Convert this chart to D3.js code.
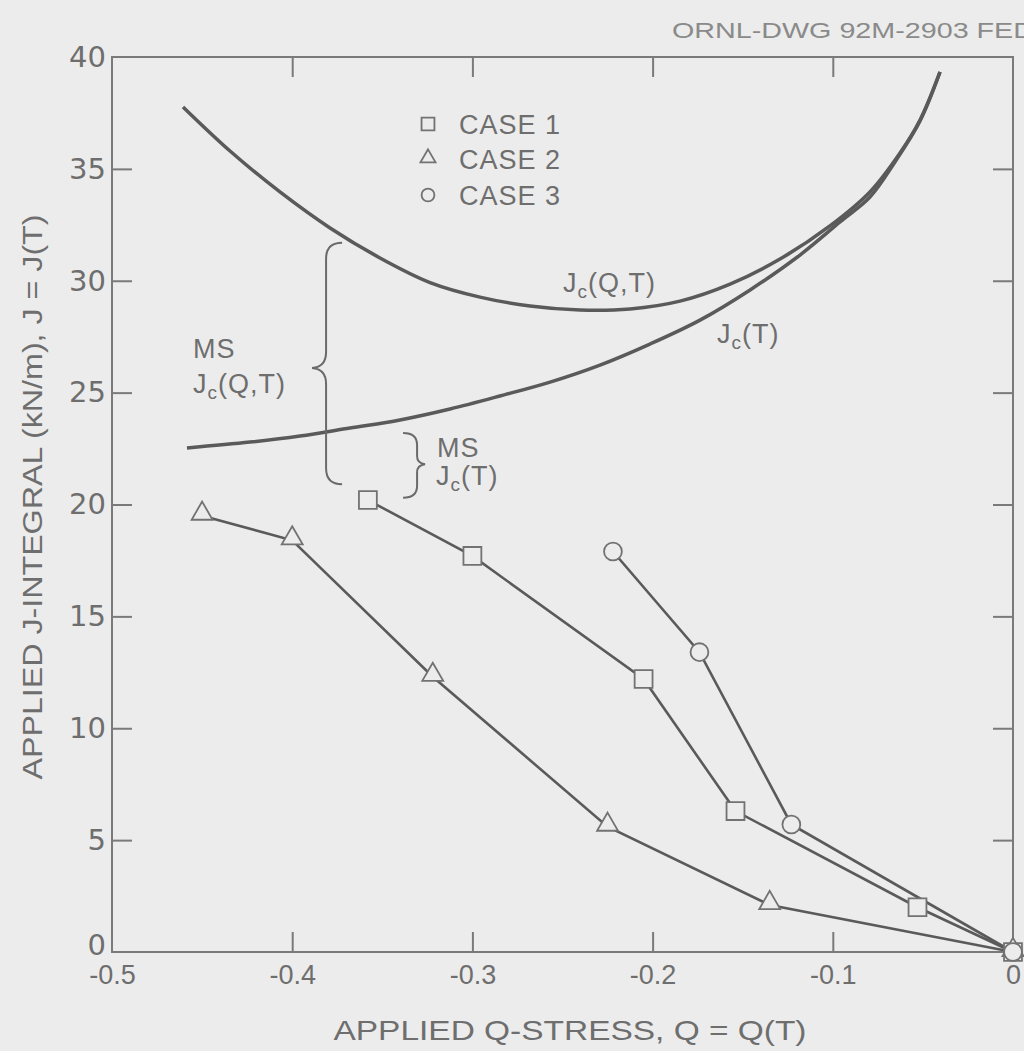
<!DOCTYPE html>
<html><head><meta charset="utf-8">
<script src="https://cdn.jsdelivr.net/npm/d3@7"></script>
<style>body{margin:0;background:#ececec;} svg{display:block;}</style>
</head><body><svg id="c" width="1024" height="1051"></svg>
<script>
// ---------- data ----------
const case1Q = [-0.358, -0.300, -0.205, -0.154, -0.053, 0];
const case1J = [20.2, 17.7, 12.2, 6.3, 2.0, 0];
const case2Q = [-0.450, -0.400, -0.322, -0.225, -0.135, 0];
const case2J = [19.5, 18.4, 12.3, 5.6, 2.1, 0];
const case3Q = [-0.222, -0.174, -0.123, 0];
const case3J = [17.9, 13.4, 5.7, 0];
const jcQT_Q = [-0.4606, -0.4345, -0.4068, -0.3790, -0.3513, -0.3235, -0.2958, -0.2680, -0.2403, -0.2125, -0.1848, -0.1570, -0.1293, -0.1016, -0.0794, -0.0627, -0.0516, -0.0405];
const jcQT_J = [37.77, 35.80, 33.97, 32.36, 31.02, 29.92, 29.27, 28.87, 28.69, 28.74, 29.09, 29.85, 30.97, 32.45, 33.97, 35.71, 37.18, 39.33];
const jcT_Q = [-0.4584, -0.4234, -0.3957, -0.3679, -0.3402, -0.3124, -0.2847, -0.2569, -0.2292, -0.2015, -0.1737, -0.1459, -0.1182, -0.0960, -0.0794, -0.0655, -0.0516, -0.0405];
const jcT_J = [22.53, 22.79, 23.06, 23.42, 23.78, 24.27, 24.85, 25.47, 26.23, 27.17, 28.24, 29.59, 31.15, 32.63, 33.74, 35.31, 37.14, 39.33];
const xTicks = [-0.5, -0.4, -0.3, -0.2, -0.1, 0];
const xTickLabels = ["-0.5", "-0.4", "-0.3", "-0.2", "-0.1", "0"];
const yTicks = [0, 5, 10, 15, 20, 25, 30, 35, 40];
const legendLabels = ["CASE 1", "CASE 2", "CASE 3"];
const legendShapes = ["square", "triangle", "circle"];

// ---------- layout ----------
const W = 1024, H = 1051;
const BG = "#ececec", INK = "#5a5a5a", TXT = "#6e6e6e", MK = "#727272";
const FONT = "'Liberation Sans', Arial, sans-serif";
const x = d3.scaleLinear().domain([-0.5, 0]).range([112, 1013]);
const y = d3.scaleLinear().domain([0, 40]).range([952, 57]);

const svg = d3.select("#c");
svg.append("rect").attr("width", W).attr("height", H).attr("fill", BG);

// frame
svg.append("rect").attr("x", x(-0.5)).attr("y", y(40))
  .attr("width", x(0) - x(-0.5)).attr("height", y(0) - y(40))
  .attr("fill", "none").attr("stroke", "#7a7a7a").attr("stroke-width", 2);

// inner tick marks on all four sides
const innerX = xTicks.slice(1, -1), innerY = yTicks.slice(1, -1);
const axB = svg.append("g").attr("transform", `translate(0,${y(0)})`)
  .call(d3.axisBottom(x).tickValues(innerX).tickSize(-20).tickFormat(""));
const axT = svg.append("g").attr("transform", `translate(0,${y(40)})`)
  .call(d3.axisTop(x).tickValues(innerX).tickSize(-20).tickFormat(""));
const axL = svg.append("g").attr("transform", `translate(${x(-0.5)},0)`)
  .call(d3.axisLeft(y).tickValues(innerY).tickSize(-20).tickFormat(""));
const axR = svg.append("g").attr("transform", `translate(${x(0)},0)`)
  .call(d3.axisRight(y).tickValues(innerY).tickSize(-20).tickFormat(""));
[axB, axT, axL, axR].forEach(g => {
  g.select(".domain").remove();
  g.selectAll(".tick line").attr("stroke", "#7a7a7a").attr("stroke-width", 2);
});

// tick labels
const lblX = svg.append("g").attr("transform", `translate(0,${y(0)})`)
  .call(d3.axisBottom(x).tickValues(xTicks).tickFormat((d, i) => xTickLabels[i]).tickSize(0).tickPadding(13));
lblX.select(".domain").remove();
lblX.selectAll("text").attr("font-family", FONT).attr("font-size", 27).attr("fill", TXT);

const lblY = svg.append("g").attr("transform", `translate(${x(-0.5)},0)`)
  .call(d3.axisLeft(y).tickValues(yTicks).tickFormat(d3.format("d")).tickSize(0).tickPadding(6));
lblY.select(".domain").remove();
lblY.selectAll("text").attr("font-family", "'DejaVu Sans', sans-serif").attr("font-size", 29).attr("fill", TXT);
lblY.selectAll(".tick").filter(d => d === 0).select("text").attr("dy", "0.1em");

// axis titles
svg.append("text").attr("x", 570).attr("y", 1040).attr("text-anchor", "middle")
  .attr("font-family", FONT).attr("font-size", 28).attr("fill", TXT)
  .attr("textLength", 473).attr("lengthAdjust", "spacingAndGlyphs")
  .text("APPLIED Q-STRESS, Q = Q(T)");
svg.append("text").attr("transform", "translate(42,497) rotate(-90)").attr("text-anchor", "middle")
  .attr("font-family", FONT).attr("font-size", 28).attr("fill", TXT)
  .attr("textLength", 565).attr("lengthAdjust", "spacingAndGlyphs")
  .text("APPLIED J-INTEGRAL (kN/m), J = J(T)");
svg.append("text").attr("x", 672).attr("y", 38)
  .attr("font-family", FONT).attr("font-size", 22).attr("fill", "#8a8a8a")
  .attr("textLength", 362).attr("lengthAdjust", "spacingAndGlyphs")
  .text("ORNL-DWG 92M-2903 FED");

// toughness curves
const smooth = d3.line().x(d => x(d[0])).y(d => y(d[1])).curve(d3.curveCatmullRom.alpha(0.5));
svg.append("path").datum(d3.zip(jcQT_Q, jcQT_J)).attr("d", smooth)
  .attr("fill", "none").attr("stroke", INK).attr("stroke-width", 3.5);
svg.append("path").datum(d3.zip(jcT_Q, jcT_J)).attr("d", smooth)
  .attr("fill", "none").attr("stroke", INK).attr("stroke-width", 3.5);

// case lines
const straight = d3.line().x(d => x(d[0])).y(d => y(d[1]));
const cases = [
  {q: case1Q, j: case1J, shape: "square"},
  {q: case2Q, j: case2J, shape: "triangle"},
  {q: case3Q, j: case3J, shape: "circle"}
];
cases.forEach(c => {
  svg.append("path").datum(d3.zip(c.q, c.j)).attr("d", straight)
    .attr("fill", "none").attr("stroke", INK).attr("stroke-width", 2.6);
});

const symType = {square: d3.symbolSquare, triangle: d3.symbolTriangle, circle: d3.symbolCircle};
const symSize = {square: 320, triangle: 190, circle: 250};
function marker(g, shape, px, py, scale) {
  g.append("path")
    .attr("d", d3.symbol().type(symType[shape]).size(symSize[shape] * scale * scale)())
    .attr("transform", `translate(${px},${py + (shape === "triangle" ? -2 * scale : 0)})`)
    .attr("fill", BG).attr("stroke", MK).attr("stroke-width", 1.8);
}
const mg = svg.append("g");
cases.forEach(c => {
  d3.zip(c.q, c.j).forEach(p => marker(mg, c.shape, x(p[0]), y(p[1]), 1));
});

// legend
const lg = svg.append("g");
legendLabels.forEach((t, i) => {
  const ly = 124 + i * 35.5;
  marker(lg, legendShapes[i], 428, ly, 0.72);
  lg.append("text").attr("x", 459).attr("y", ly + 9.5)
    .attr("font-family", FONT).attr("font-size", 27).attr("letter-spacing", 1).attr("fill", TXT).text(t);
});

// subscripted labels
function jLabel(px, py, rest) {
  const t = svg.append("text").attr("x", px).attr("y", py)
    .attr("font-family", FONT).attr("font-size", 27).attr("letter-spacing", 1).attr("fill", TXT);
  t.append("tspan").text("J");
  t.append("tspan").attr("font-size", 19).attr("dy", 6).text("c");
  t.append("tspan").attr("dy", -6).text(rest);
}
function plain(px, py, s) {
  svg.append("text").attr("x", px).attr("y", py)
    .attr("font-family", FONT).attr("font-size", 27).attr("letter-spacing", 1).attr("fill", TXT).text(s);
}
jLabel(x(-0.2497), y(29.5), "(Q,T)");
jLabel(x(-0.1643), y(27.22), "(T)");
plain(x(-0.455), y(26.55), "MS");
jLabel(x(-0.455), y(24.98), "(Q,T)");
plain(x(-0.3196), y(22.12), "MS");
jLabel(x(-0.3202), y(20.87), "(T)");

// braces
const bx = x(-0.3812), bt = y(31.7), bm = y(26.1), bb = y(20.9), bw = 16;
svg.append("path")
  .attr("d", `M${bx + bw},${bt} Q${bx},${bt} ${bx},${bt + 16} L${bx},${bm - 16} Q${bx},${bm - 1} ${bx - 14},${bm} Q${bx},${bm + 1} ${bx},${bm + 16} L${bx},${bb - 16} Q${bx},${bb} ${bx + bw},${bb}`)
  .attr("fill", "none").attr("stroke", "#6a6a6a").attr("stroke-width", 2);
const sx = x(-0.3307), st = y(23.2), sm = y(21.8), sb = y(20.3);
svg.append("path")
  .attr("d", `M${sx - 14},${st} Q${sx},${st} ${sx},${st + 12} L${sx},${sm - 8} Q${sx},${sm - 1} ${sx + 8},${sm} Q${sx},${sm + 1} ${sx},${sm + 8} L${sx},${sb - 12} Q${sx},${sb} ${sx - 14},${sb}`)
  .attr("fill", "none").attr("stroke", "#6a6a6a").attr("stroke-width", 2);
</script>
</body></html>
